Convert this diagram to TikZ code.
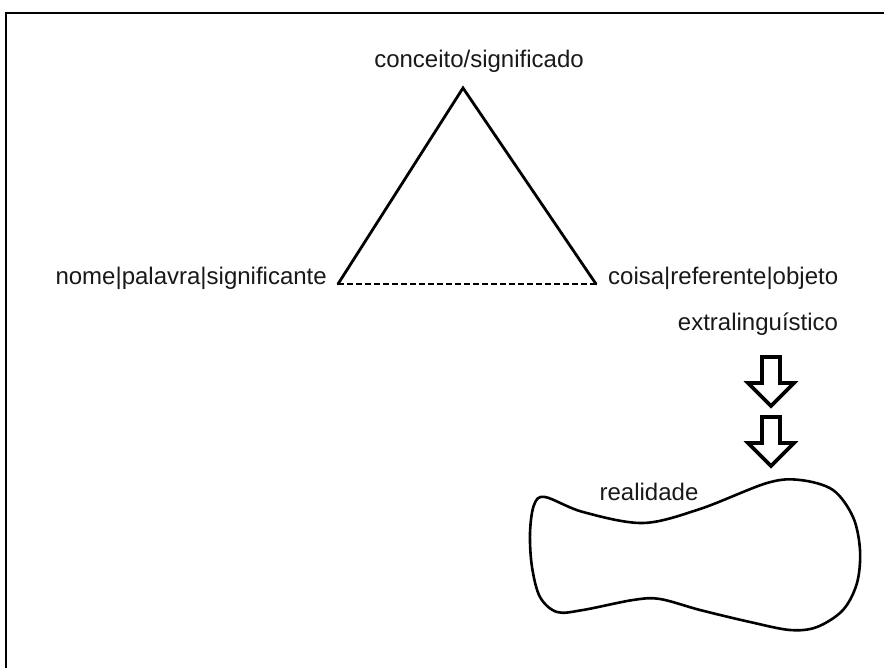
\documentclass[tikz,border=0pt]{standalone}
\usepackage{fontspec}
\setmainfont{Liberation Sans}
\begin{document}
\begin{tikzpicture}[x=1pt,y=-1pt,
  lbl/.style={font=\fontsize{24}{29}\selectfont, inner sep=0pt, anchor=base, text=black!90},
  edge/.style={line width=2.8pt, line join=miter, line cap=round},
  dashedge/.style={line width=2.8pt, dash pattern=on 6pt off 3pt},
  fatarrow/.style={line width=3.6pt, line join=miter, draw=black, fill=white},
  blob/.style={line width=2.6pt, draw=black}]
\useasboundingbox (0,0) rectangle (884,668);
\clip (0,0) rectangle (884,668);
\fill[white] (0,0) rectangle (884,668);
% frame
\draw[line width=2.2pt] (6,13) rectangle (900,690);
% triangle vertices
\coordinate (apex) at (463,88);
\coordinate (lft) at (338,284);
\coordinate (rgt) at (596,284);
\draw[edge] (lft) -- (apex) -- (rgt);
\draw[dashedge] (lft) -- (rgt);
% labels
\node[lbl] (conc) at (479,68) {conceito/significado};
\node[lbl, anchor=base east] (nome) at (327,285) {nome|palavra|significante};
\node[lbl, anchor=base west] (coisa) at (608,285) {coisa|referente|objeto};
\node[lbl] (extra) at (758,331) {extralinguístico};
% block arrows
\foreach \t in {357,417}{
  \draw[fatarrow] (762,\t) -- (780,\t) -- (780,\t+26) -- (794,\t+26) -- (771,\t+49) -- (748,\t+26) -- (762,\t+26) -- cycle;
}
% reality blob
\draw[blob] plot[smooth cycle, tension=0.55] coordinates {
  (545,497) (583,512) (643,523) (700,509) (767,483) (800,480) (833,490)
  (853,517) (860,550) (857,583) (843,610) (817,627) (790,630) (750,622)
  (700,610) (660,599) (633,600) (583,610) (557,612) (540,597) (532,567)
  (530,533) (534,505)};
\node[lbl] (real) at (649,500) {realidade};
\end{tikzpicture}
\end{document}
